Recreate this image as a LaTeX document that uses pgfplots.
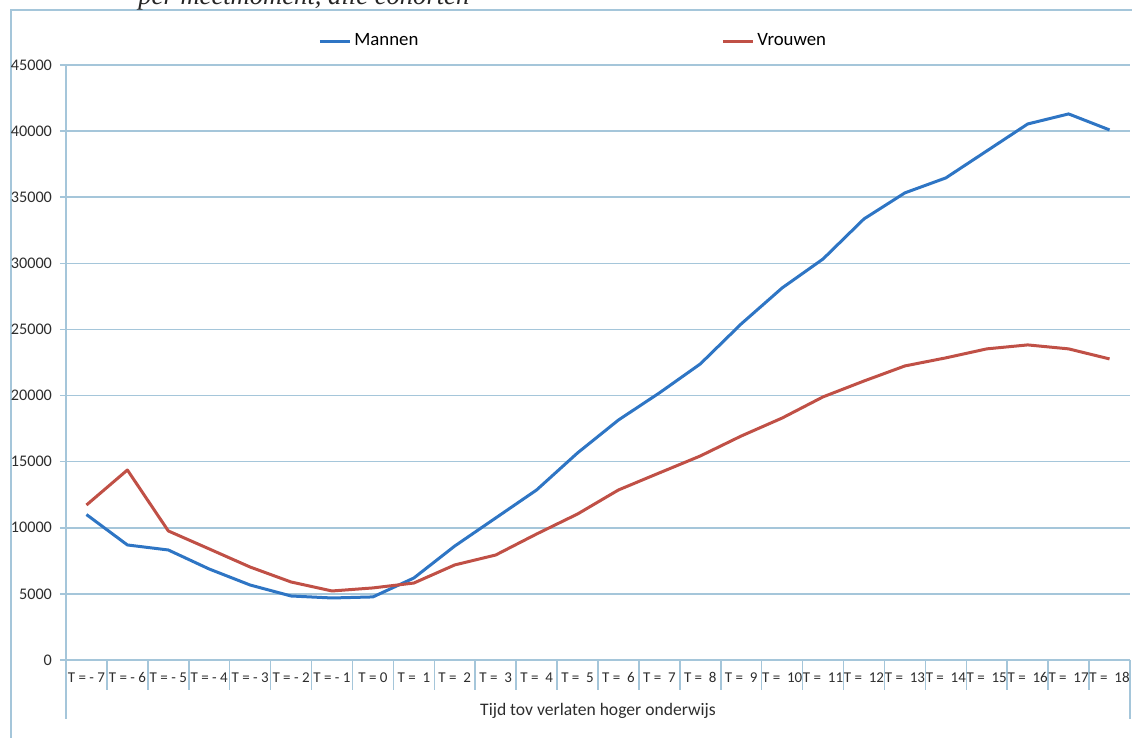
\documentclass[border=0pt]{standalone}
\usepackage{pgfplots}
\pgfplotsset{compat=1.18}
\usepackage{pgfplotstable}
\usepackage{fontspec}
\setmainfont{Carlito}
\newfontfamily\titlefont{Liberation Serif}
\definecolor{mblue}{RGB}{46,117,196}
\definecolor{vred}{RGB}{192,80,70}
\definecolor{gridc}{RGB}{165,198,218}
\definecolor{txt}{RGB}{45,45,45}

\pgfplotstableread{
x m v
0 11000 11720
1 8700 14370
2 8320 9760
3 6880 8400
4 5670 7030
5 4840 5900
6 4690 5220
7 4770 5450
8 6200 5820
9 8620 7190
10 10740 7940
11 12860 9530
12 15660 11040
13 18150 12860
14 20200 14150
15 22390 15430
16 25420 16940
17 28140 18300
18 30330 19900
19 33360 21100
20 35330 22240
21 36460 22850
22 38500 23530
23 40540 23830
24 41300 23530
25 40090 22770
}\data

\begin{document}
\begin{tikzpicture}
\useasboundingbox (0,0) rectangle (566pt,369pt);
% outer frame
\draw[gridc, line width=0.8pt] (5.5pt,0) -- (5.5pt,364pt) -- (566pt,364pt);
% cut-off title
\node[anchor=base west, inner sep=0pt, font=\titlefont\itshape\fontsize{13.3}{14}\selectfont, text=black!85] at (69pt,366.5pt) {per meetmoment, alle cohorten};
\begin{axis}[
  at={(33pt,39pt)}, anchor=south west,
  scale only axis, width=532pt, height=297.5pt,
  xmin=-0.5, xmax=25.5, ymin=0, ymax=45000,
  axis x line*=bottom, axis y line*=left,
  axis line style={gridc, line width=0.8pt},
  ytick={0,5000,...,45000},
  ymajorgrids, grid style={gridc, line width=0.8pt},
  scaled y ticks=false,
  /pgf/number format/set thousands separator={},
  /pgf/number format/assume math mode=true,
  xtick={0,...,25},
  xticklabels={{T = - 7},{T = - 6},{T = - 5},{T = - 4},{T = - 3},{T = - 2},{T = - 1},{T = 0},{T =\ \ 1},{T =\ \ 2},{T =\ \ 3},{T =\ \ 4},{T =\ \ 5},{T =\ \ 6},{T =\ \ 7},{T =\ \ 8},{T =\ \ 9},{T = \ 10},{T = \ 11},{T = \ 12},{T = \ 13},{T = \ 14},{T = \ 15},{T = \ 16},{T = \ 17},{T = \ 18}},
  minor xtick={-0.5,0.5,...,25.5},
  tick align=outside,
  major tick length=3pt, minor tick length=15pt,
  every major x tick/.append style={draw=none},
  tick style={gridc, line width=0.8pt},
  ticklabel style={font=\fontsize{8.1}{9}\selectfont, text=txt},
  xticklabel style={yshift=0.5pt, font=\fontsize{7.5}{9}\selectfont, inner xsep=0pt, text height=5.4pt, text depth=1.5pt},
  yticklabel style={xshift=-0.5pt},
  xlabel={Tijd tov verlaten hoger onderwijs},
  xlabel style={at={(axis description cs:0.5,0)}, anchor=center, yshift=-25.5pt, font=\fontsize{8.8}{10}\selectfont, text=txt},
  legend columns=2,
  legend style={at={(axis description cs:0.2368,1.0403)}, anchor=west, draw=none, fill=none,
    font=\fontsize{9.4}{10}\selectfont, inner sep=0pt,
    /tikz/every even column/.append style={column sep=0pt},
    nodes={inner xsep=1.5pt}},
  legend cell align=left,
  legend image code/.code={\draw[#1] (0pt,0pt) -- (15pt,0pt);},
  clip=false,
]
\addplot[mblue, line width=1.5pt, line join=round] table[x=x,y=m]{\data};
\addlegendentry{\makebox[182pt][l]{Mannen}}
\addplot[vred, line width=1.5pt, line join=round] table[x=x,y=v]{\data};
\addlegendentry{Vrouwen}
\draw[gridc, line width=0.8pt] (rel axis cs:0,0) -- ++(0pt,-29.5pt);
\draw[gridc, line width=0.8pt] (rel axis cs:1,0) -- ++(0pt,-29.5pt);
\end{axis}
\end{tikzpicture}
\end{document}
